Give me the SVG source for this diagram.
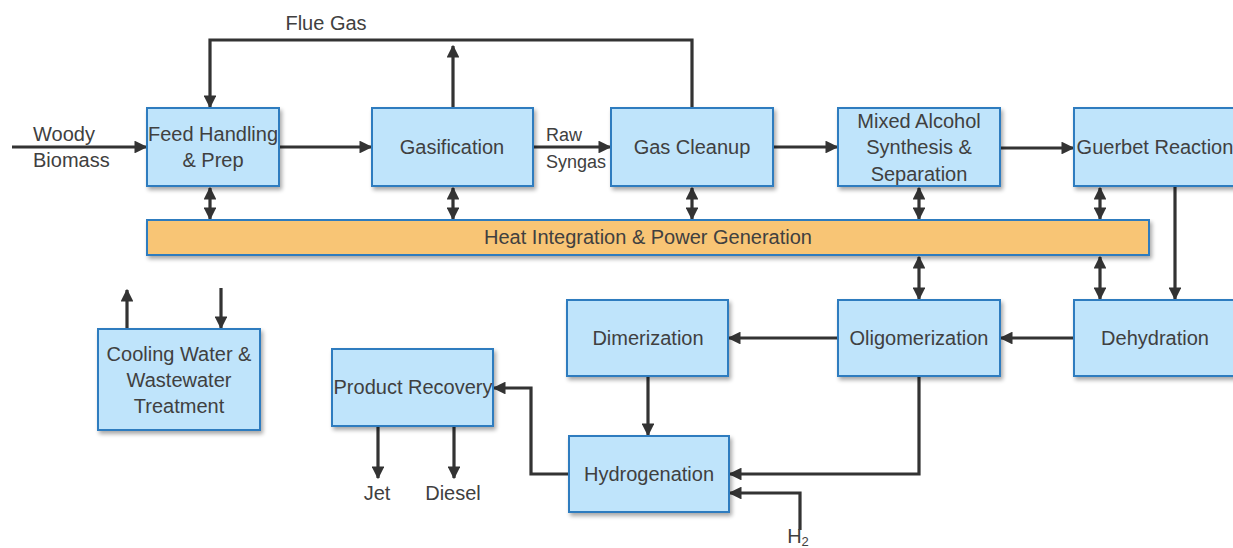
<svg xmlns="http://www.w3.org/2000/svg" width="1233" height="548" viewBox="0 0 1233 548">
<defs>
<filter id="sh" x="-10%" y="-10%" width="130%" height="140%">
<feGaussianBlur in="SourceAlpha" stdDeviation="2"/>
<feOffset dx="2" dy="3" result="b"/>
<feComponentTransfer><feFuncA type="linear" slope="0.35"/></feComponentTransfer>
<feMerge><feMergeNode/><feMergeNode in="SourceGraphic"/></feMerge>
</filter>
<marker id="ah" viewBox="0 0 10 10" refX="9" refY="5" markerWidth="4" markerHeight="4" orient="auto-start-reverse" markerUnits="strokeWidth">
<path d="M0,0 L10,5 L0,10 z" fill="#333"/>
</marker>
</defs>
<style>
.box{fill:#BFE4FB;stroke:#2E7BBF;stroke-width:2;filter:url(#sh)}
.bar{fill:#F8C575;stroke:#2E7BBF;stroke-width:2;filter:url(#sh)}
text{font-family:"Liberation Sans",Arial,sans-serif;font-size:20px;fill:#404040;text-anchor:middle}
.l{text-anchor:start}
.s{font-size:18px}
.c path{fill:none;stroke:#333;stroke-width:3.2}
.a{marker-end:url(#ah)}
.d{marker-start:url(#ah);marker-end:url(#ah)}
</style>
<rect width="1233" height="548" fill="#fff"/>
<g class="c" id="connectors">
<path class="a" d="M12,147 H146"/>
<path class="a" d="M279,147 H371"/>
<path class="a" d="M533,147 H610"/>
<path class="a" d="M773,147 H837"/>
<path class="a" d="M1000,148 H1073"/>
<path class="a" d="M692,108 V40 H210 V107"/>
<path class="a" d="M453,108 V46"/>
<path class="d" d="M210,188 V219"/>
<path class="d" d="M453,188 V219"/>
<path class="d" d="M692,188 V219"/>
<path class="d" d="M919,188 V219"/>
<path class="d" d="M1100,188 V219"/>
<path class="d" d="M919,257 V299"/>
<path class="d" d="M1100,257 V299"/>
<path class="a" d="M1175,186 V299"/>
<path class="a" d="M1074,338 H1001"/>
<path class="a" d="M838,338 H729"/>
<path class="a" d="M648,376 V435"/>
<path class="a" d="M919,376 V474 H730"/>
<path class="a" d="M800,530 V493 H730"/>
<path class="a" d="M569,474 H531 V388 H494"/>
<path class="a" d="M378,426 V478"/>
<path class="a" d="M454,426 V478"/>
<path class="a" d="M127,329 V290"/>
<path class="a" d="M221,288 V328"/>
</g>
<text class="l" x="33" y="141">Woody</text>
<text class="l" x="33" y="167">Biomass</text>
<text x="326" y="30">Flue Gas</text>
<text class="l s" x="546" y="141">Raw</text>
<text class="l s" x="546" y="168">Syngas</text>
<text x="377" y="500">Jet</text>
<text x="453" y="500">Diesel</text>
<text x="798" y="543">H<tspan font-size="13" dy="3">2</tspan></text>
<g id="feed"><rect class="box" x="147" y="108" width="132" height="78"/><text x="213" y="141">Feed Handling</text><text x="213" y="167">&amp; Prep</text></g>
<g id="gasification"><rect class="box" x="372" y="108" width="161" height="78"/><text x="452" y="154">Gasification</text></g>
<g id="cleanup"><rect class="box" x="611" y="108" width="162" height="78"/><text x="692" y="154">Gas Cleanup</text></g>
<g id="mixed"><rect class="box" x="838" y="108" width="162" height="78"/><text x="919" y="128">Mixed Alcohol</text><text x="919" y="154">Synthesis &amp;</text><text x="919" y="181">Separation</text></g>
<g id="guerbet"><rect class="box" x="1074" y="108" width="170" height="78"/><text x="1155" y="154">Guerbet Reaction</text></g>
<g id="heat"><rect class="bar" x="147" y="220" width="1002" height="35"/><text x="648" y="244">Heat Integration &amp; Power Generation</text></g>
<g id="dehydration"><rect class="box" x="1074" y="300" width="170" height="76"/><text x="1155" y="345">Dehydration</text></g>
<g id="oligomerization"><rect class="box" x="838" y="300" width="162" height="76"/><text x="919" y="345">Oligomerization</text></g>
<g id="dimerization"><rect class="box" x="567" y="300" width="161" height="76"/><text x="648" y="345">Dimerization</text></g>
<g id="hydrogenation"><rect class="box" x="569" y="436" width="160" height="76"/><text x="649" y="481">Hydrogenation</text></g>
<g id="product"><rect class="box" x="332" y="349" width="161" height="77"/><text x="413" y="394" font-size="19">Product Recovery</text></g>
<g id="cooling"><rect class="box" x="98" y="329" width="162" height="101"/><text x="179" y="361">Cooling Water &amp;</text><text x="179" y="387">Wastewater</text><text x="179" y="413">Treatment</text></g>
</svg>
